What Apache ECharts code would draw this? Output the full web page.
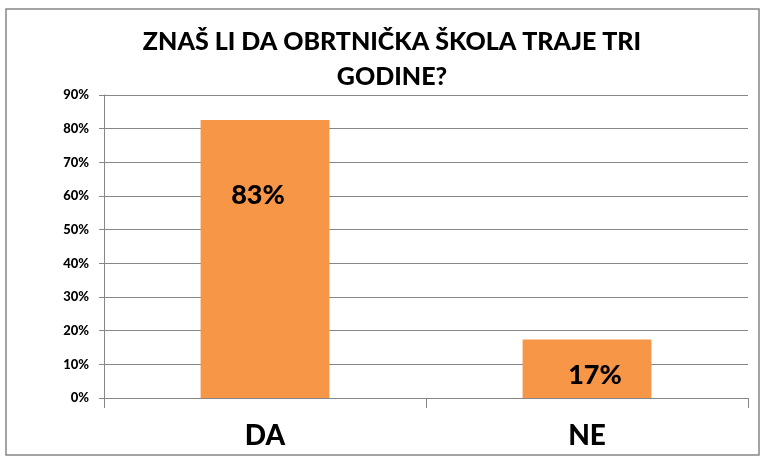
<!DOCTYPE html>
<html>
<head>
<meta charset="utf-8">
<script src="https://cdn.jsdelivr.net/npm/echarts@6/dist/echarts.min.js"></script>
<style>
html,body{margin:0;padding:0;background:#fff;}
#chart{width:771px;height:470px;}
</style>
</head>
<body>
<div id="chart"></div>
<script>
const titleText = "ZNAŠ LI DA OBRTNIČKA ŠKOLA TRAJE TRI\nGODINE?";
const categories = ["DA", "NE"];
const values = [82.6, 17.4];
const yTicks = { min: 0, max: 90, interval: 10 };

const FONT = "Lato, 'Open Sans', sans-serif";
const labelPos = [
  { offset: [-7, 0], pos: ['50%', '27%'] },
  { offset: [8, 0], pos: ['50%', '62%'] }
];

const chart = echarts.init(document.getElementById('chart'), null, { renderer: 'canvas' });
chart.setOption({
  backgroundColor: '#ffffff',
  animation: false,
  graphic: [{
    type: 'rect',
    shape: { x: 6, y: 9, width: 753, height: 446 },
    style: { fill: 'none', stroke: '#868686', lineWidth: 1.5 },
    silent: true
  }],
  title: {
    text: titleText,
    left: 387,
    top: 19,
    textAlign: 'center',
    textStyle: {
      fontFamily: FONT, fontWeight: 900, fontSize: 25, color: '#000',
      lineHeight: 35
    }
  },
  grid: { left: 104, right: 23, top: 95, bottom: 72, containLabel: false },
  xAxis: {
    type: 'category',
    data: categories,
    boundaryGap: true,
    axisLine: { show: true, lineStyle: { color: '#868686', width: 1 } },
    axisTick: { show: true, length: 10, lineStyle: { color: '#868686' }, alignWithLabel: false },
    axisLabel: { fontFamily: FONT, fontWeight: 900, fontSize: 28, color: '#000', margin: 24 }
  },
  yAxis: {
    type: 'value',
    min: yTicks.min, max: yTicks.max, interval: yTicks.interval,
    axisLine: { show: true, lineStyle: { color: '#868686', width: 1 } },
    axisTick: { show: true, length: 5, lineStyle: { color: '#868686' } },
    splitLine: { show: true, lineStyle: { color: '#868686', width: 1 } },
    axisLabel: {
      fontFamily: FONT, fontWeight: 900, fontSize: 13, color: '#000', margin: 15,
      formatter: v => v + '%'
    }
  },
  series: [{
    type: 'bar',
    barWidth: '40%',
    itemStyle: { color: '#F79646' },
    data: values.map((v, i) => ({
      value: v,
      label: {
        show: true,
        position: labelPos[i].pos,
        offset: labelPos[i].offset,
        align: 'center', verticalAlign: 'middle',
        formatter: p => Math.round(p.value) + '%',
        fontFamily: FONT, fontWeight: 900, fontSize: 27, color: '#000'
      }
    }))
  }]
});
</script>
</body>
</html>
